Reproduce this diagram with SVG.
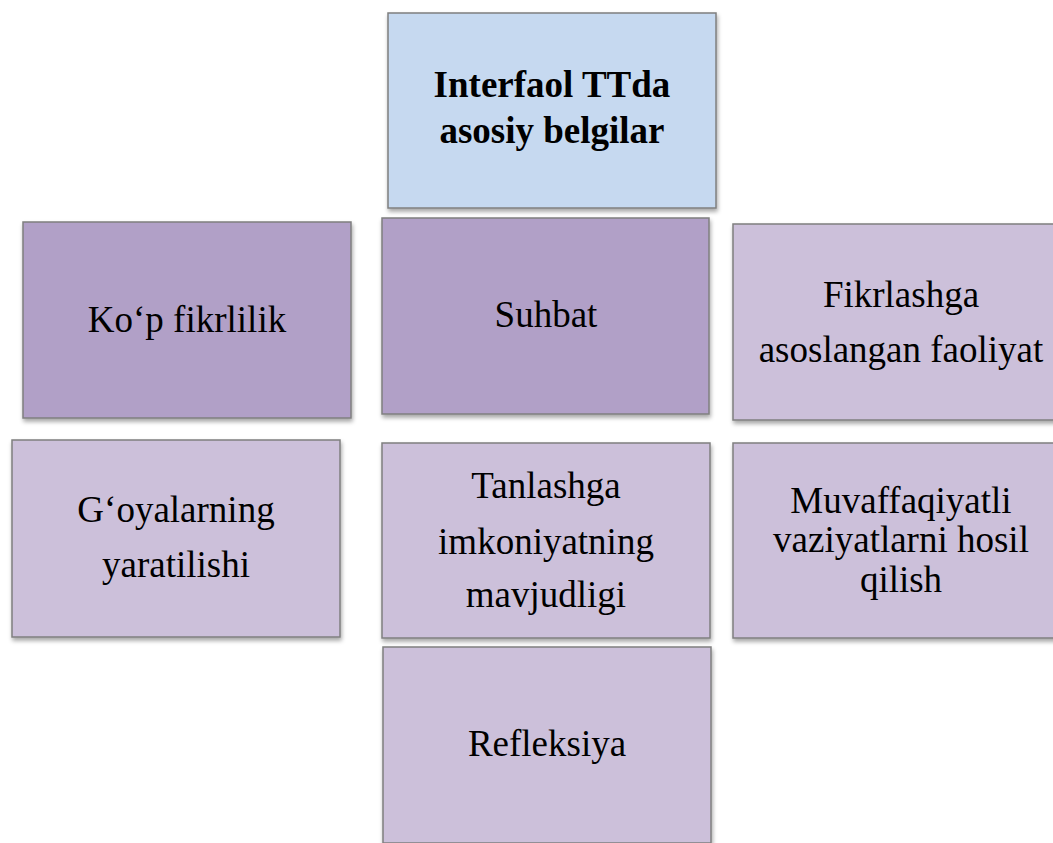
<svg xmlns="http://www.w3.org/2000/svg" width="1053" height="843" viewBox="0 0 1053 843">
<defs>
<filter id="sh" x="-5%" y="-5%" width="115%" height="115%">
<feDropShadow dx="1" dy="3" stdDeviation="2" flood-color="#000" flood-opacity="0.35"/>
</filter>
<style>
.box{stroke:#7f7f7f;stroke-width:1.5;filter:url(#sh)}
.blue{fill:#c6d9f0}
.dark{fill:#b1a0c7}
.light{fill:#ccc0da}
.t{font-size:37px;fill:#000;text-anchor:middle}
.b{font-weight:bold}
</style>
</defs>
<rect width="1053" height="843" fill="#fff"/>
<g id="connectors"></g>
<g id="n-title">
<rect class="box blue" x="388" y="13" width="328" height="195"/>
<text class="t b" font-family="Liberation Serif" x="552" y="97">Interfaol TTda</text>
<text class="t b" font-family="Liberation Serif" x="552" y="143">asosiy belgilar</text>
</g>
<g id="n-kop">
<rect class="box dark" x="23" y="222" width="328" height="196"/>
<text class="t" font-family="Liberation Serif" x="187" y="332">Ko‘p fikrlilik</text>
</g>
<g id="n-suhbat">
<rect class="box dark" x="382" y="218" width="327" height="196"/>
<text class="t" font-family="Liberation Serif" x="546" y="327">Suhbat</text>
</g>
<g id="n-fikr">
<rect class="box light" x="733" y="224" width="336" height="196"/>
<text class="t" font-family="Liberation Serif" x="901" y="307">Fikrlashga</text>
<text class="t" font-family="Liberation Serif" x="901" y="362">asoslangan faoliyat</text>
</g>
<g id="n-goya">
<rect class="box light" x="12" y="440" width="328" height="197"/>
<text class="t" font-family="Liberation Serif" x="176" y="522">G‘oyalarning</text>
<text class="t" font-family="Liberation Serif" x="176" y="577">yaratilishi</text>
</g>
<g id="n-tanlash">
<rect class="box light" x="382" y="443" width="328" height="195"/>
<text class="t" font-family="Liberation Serif" x="546" y="498">Tanlashga</text>
<text class="t" font-family="Liberation Serif" x="546" y="554">imkoniyatning</text>
<text class="t" font-family="Liberation Serif" x="546" y="607">mavjudligi</text>
</g>
<g id="n-muvaff">
<rect class="box light" x="733" y="443" width="336" height="195"/>
<text class="t" font-family="Liberation Serif" x="901" y="513">Muvaffaqiyatli</text>
<text class="t" font-family="Liberation Serif" x="901" y="552">vaziyatlarni hosil</text>
<text class="t" font-family="Liberation Serif" x="901" y="592">qilish</text>
</g>
<g id="n-refleksiya">
<rect class="box light" x="383" y="647" width="328" height="196"/>
<text class="t" font-family="Liberation Serif" x="547" y="756">Refleksiya</text>
</g>
</svg>
